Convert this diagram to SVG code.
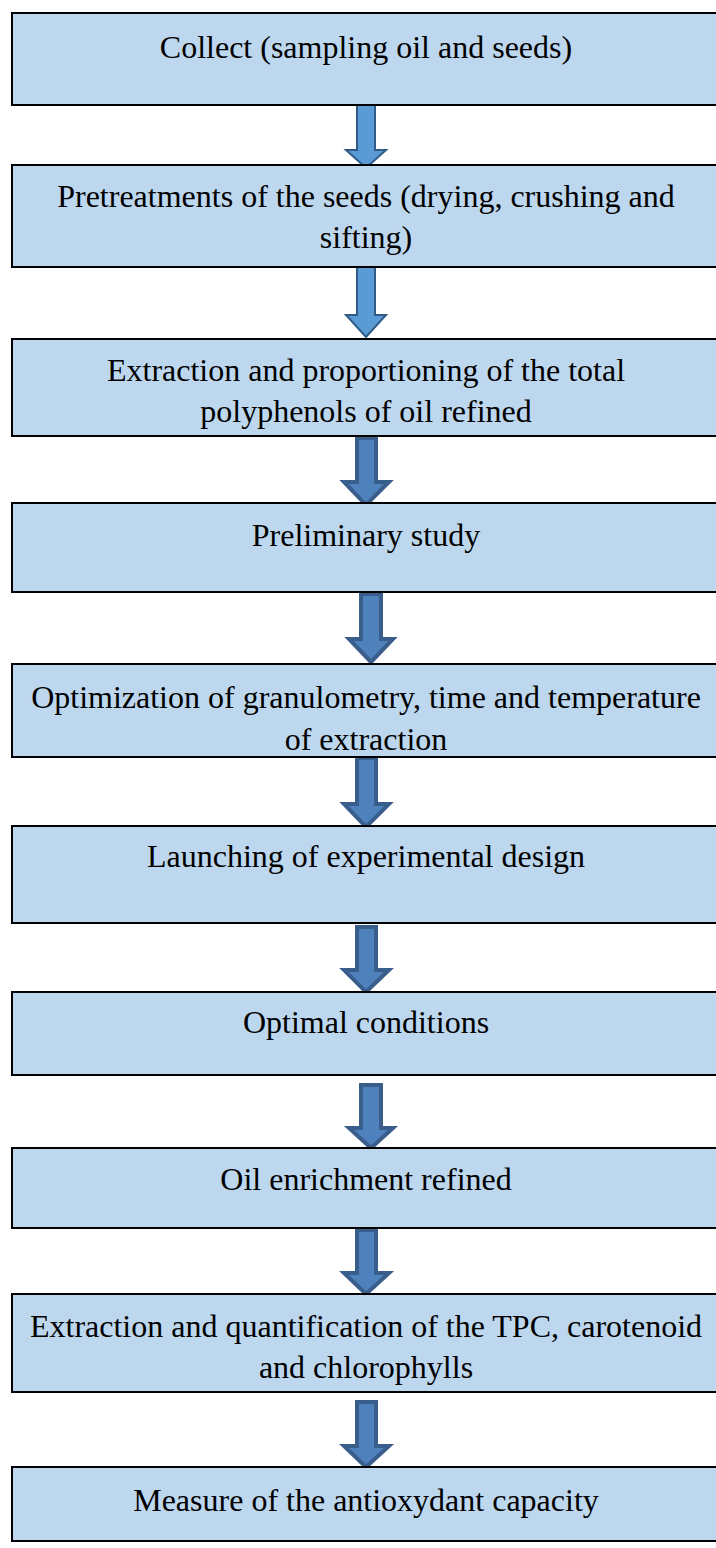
<svg xmlns="http://www.w3.org/2000/svg" width="716" height="1548" viewBox="0 0 716 1548">
<style>
.box{fill:#BDD7EE;stroke:#000;stroke-width:2}
.t{font-family:"Liberation Serif","Times New Roman",serif;font-size:32px;fill:#000;text-anchor:middle}
.a1{fill:#5B9BD5;stroke:#2F5B86;stroke-width:2;stroke-linejoin:miter}
.a2{fill:#4F81BD;stroke:#3A5E8C;stroke-width:4;stroke-linejoin:miter}
</style>
<rect width="716" height="1548" fill="#fff"/>
<g id="connectors">
<path class="a1" d="M357,105 H375 V150 H386 L366,168 L346,150 H357 Z"/>
<path class="a1" d="M357,267 H375 V315 H386 L366,337 L346,315 H357 Z"/>
<path class="a2" d="M357,438 H376 V482 H389 L366,505 L344,482 H357 Z"/>
<path class="a2" d="M361,594 H381 V639 H393 L371,662 L349,639 H361 Z"/>
<path class="a2" d="M357,758 H376 V804 H389 L366,827 L344,804 H357 Z"/>
<path class="a2" d="M357,927 H376 V970 H389 L366,992 L344,970 H357 Z"/>
<path class="a2" d="M361,1085 H381 V1128 H393 L371,1148 L349,1128 H361 Z"/>
<path class="a2" d="M357,1230 H376 V1273 H389 L366,1294 L344,1273 H357 Z"/>
<path class="a2" d="M357,1402 H376 V1446 H389 L366,1467 L344,1446 H357 Z"/>
</g>
<g id="n1"><rect class="box" x="12" y="13" width="712" height="92"/><text class="t" x="366" y="58">Collect (sampling oil and seeds)</text></g>
<g id="n2"><rect class="box" x="12" y="165" width="712" height="102"/><text class="t" x="366" y="207">Pretreatments of the seeds (drying, crushing and</text><text class="t" x="366" y="248">sifting)</text></g>
<g id="n3"><rect class="box" x="12" y="339" width="712" height="97"/><text class="t" x="366" y="381">Extraction and proportioning of the total</text><text class="t" x="366" y="422">polyphenols of oil refined</text></g>
<g id="n4"><rect class="box" x="12" y="503" width="712" height="89"/><text class="t" x="366" y="546">Preliminary study</text></g>
<g id="n5"><rect class="box" x="12" y="664" width="712" height="93"/><text class="t" x="366" y="708">Optimization of granulometry, time and temperature</text><text class="t" x="366" y="750">of extraction</text></g>
<g id="n6"><rect class="box" x="12" y="826" width="712" height="97"/><text class="t" x="366" y="867">Launching of experimental design</text></g>
<g id="n7"><rect class="box" x="12" y="992" width="712" height="83"/><text class="t" x="366" y="1033">Optimal conditions</text></g>
<g id="n8"><rect class="box" x="12" y="1148" width="712" height="80"/><text class="t" x="366" y="1190">Oil enrichment refined</text></g>
<g id="n9"><rect class="box" x="12" y="1294" width="712" height="98"/><text class="t" x="366" y="1337">Extraction and quantification of the TPC, carotenoid</text><text class="t" x="366" y="1378">and chlorophylls</text></g>
<g id="n10"><rect class="box" x="12" y="1467" width="712" height="74"/><text class="t" x="366" y="1511">Measure of the antioxydant capacity</text></g>
</svg>
